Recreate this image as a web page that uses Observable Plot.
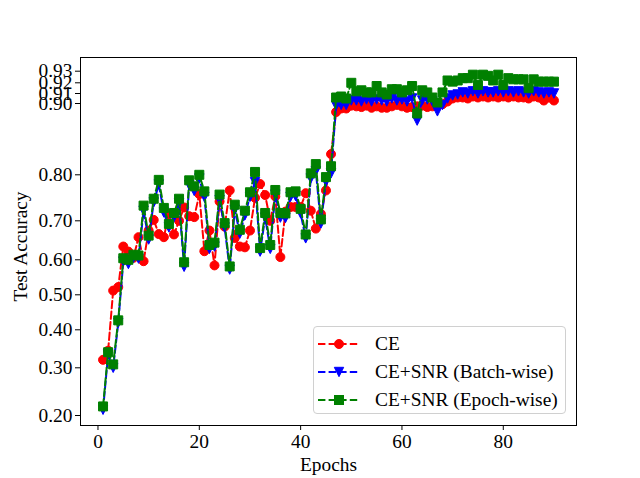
<!DOCTYPE html>
<html>
<head>
<meta charset="utf-8">
<script src="https://cdn.jsdelivr.net/npm/d3@7"></script>
<script src="https://cdn.jsdelivr.net/npm/@observablehq/plot@0.6"></script>
<style>
  html, body { margin: 0; padding: 0; background: #fff; }
  #wrap { position: relative; width: 640px; height: 478px; font-family: "Liberation Serif", "Times New Roman", serif; }
  #legend { position: absolute; left: 313px; top: 326px; width: 253px; height: 88px; box-sizing: border-box;
    border: 1px solid #d0d0d0; border-radius: 4px; background: rgba(255,255,255,0.8); }
  .item { position: absolute; left: 0; height: 28px; display: flex; align-items: center; font-size: 19.4px; color: #000; white-space: nowrap; }
  .item svg { margin-left: 4px; margin-right: 15px; }
</style>
</head>
<body>
<div id="wrap"><div id="legend"></div></div>
<script>
const epochs = [1,2,3,4,5,6,7,8,9,10,11,12,13,14,15,16,17,18,19,20,21,22,23,24,25,26,27,28,29,30,
  31,32,33,34,35,36,37,38,39,40,41,42,43,44,45,46,47,48,49,50,51,52,53,54,55,56,57,58,59,60,
  61,62,63,64,65,66,67,68,69,70,71,72,73,74,75,76,77,78,79,80,81,82,83,84,85,86,87,88,89,90];

const ce = [0.321,0.345,0.512,0.522,0.634,0.621,0.605,0.658,0.596,0.675,
  0.702,0.666,0.658,0.715,0.665,0.700,0.729,0.710,0.708,0.758,
  0.622,0.675,0.584,0.742,0.685,0.766,0.656,0.634,0.632,0.675,
  0.750,0.780,0.756,0.700,0.753,0.607,0.720,0.730,0.730,0.730,
  0.760,0.722,0.680,0.715,0.766,0.829,0.888,0.893,0.893,0.897,
  0.896,0.895,0.897,0.894,0.896,0.894,0.894,0.896,0.898,0.896,
  0.894,0.895,0.896,0.897,0.895,0.896,0.898,0.899,0.902,0.905,
  0.906,0.906,0.905,0.907,0.906,0.907,0.906,0.907,0.906,0.907,
  0.906,0.907,0.906,0.906,0.905,0.907,0.906,0.903,0.906,0.903];

const batchWise = [0.212,0.335,0.300,0.420,0.595,0.588,0.605,0.603,0.722,0.652,
  0.740,0.779,0.718,0.683,0.708,0.738,0.580,0.778,0.765,0.792,
  0.752,0.628,0.634,0.745,0.683,0.572,0.724,0.667,0.712,0.752,
  0.784,0.621,0.707,0.628,0.757,0.707,0.706,0.752,0.754,0.716,
  0.655,0.792,0.805,0.693,0.785,0.802,0.897,0.898,0.898,0.903,
  0.903,0.902,0.904,0.902,0.904,0.903,0.902,0.905,0.903,0.904,
  0.902,0.905,0.876,0.903,0.904,0.902,0.889,0.898,0.905,0.908,
  0.909,0.911,0.910,0.912,0.910,0.912,0.911,0.911,0.912,0.911,
  0.912,0.911,0.912,0.911,0.910,0.912,0.911,0.910,0.911,0.910];

const epochWise = [0.219,0.341,0.309,0.427,0.604,0.600,0.613,0.611,0.733,0.662,
  0.748,0.789,0.728,0.692,0.717,0.748,0.593,0.788,0.775,0.800,
  0.764,0.638,0.644,0.757,0.694,0.581,0.735,0.677,0.722,0.762,
  0.804,0.630,0.717,0.638,0.767,0.717,0.716,0.762,0.764,0.726,
  0.665,0.802,0.815,0.703,0.795,0.812,0.906,0.907,0.905,0.920,
  0.912,0.913,0.911,0.911,0.917,0.911,0.909,0.914,0.914,0.911,
  0.913,0.917,0.886,0.913,0.911,0.906,0.901,0.911,0.922,0.921,
  0.922,0.924,0.924,0.927,0.918,0.927,0.926,0.922,0.927,0.918,
  0.924,0.923,0.923,0.923,0.915,0.923,0.921,0.921,0.921,0.921];

const seriesNames = ["CE", "CE+SNR (Batch-wise)", "CE+SNR (Epoch-wise)"];
const seriesColors = ["red", "blue", "green"];
const xTicks = [0, 20, 40, 60, 80];
const yTicks = [0.20, 0.30, 0.40, 0.50, 0.60, 0.70, 0.80, 0.90, 0.91, 0.92, 0.93];

// custom marker shapes (size = pi r^2 supplied by Plot)
const squareSym = { draw(ctx, size) { const r = Math.sqrt(size / Math.PI); ctx.rect(-r, -r, 2 * r, 2 * r); } };
const triDownSym = { draw(ctx, size) { const r = Math.sqrt(size / Math.PI) * 1.05; ctx.moveTo(0, r); ctx.lineTo(-r, -r); ctx.lineTo(r, -r); ctx.closePath(); } };
const circleSym = { draw(ctx, size) { const r = Math.sqrt(size / Math.PI); ctx.moveTo(r, 0); ctx.arc(0, 0, r, 0, 2 * Math.PI); } };
const symbols = [circleSym, triDownSym, squareSym];

const allSeries = [ce, batchWise, epochWise];
const tables = allSeries.map((vals, i) => epochs.map((e, j) => ({epoch: e, acc: vals[j], series: seriesNames[i]})));

const FS = 19.4;
const dash = "7.4,3.2";
const marks = [Plot.frame({stroke: "black", strokeWidth: 1})];
tables.forEach((t, i) => {
  marks.push(Plot.line(t, {x: "epoch", y: "acc", stroke: seriesColors[i], strokeWidth: 2, strokeDasharray: dash}));
  marks.push(Plot.dot(t, {x: "epoch", y: "acc", symbol: symbols[i], r: 4.5, fill: seriesColors[i], stroke: seriesColors[i], strokeWidth: 1}));
});
marks.push(Plot.axisX({ticks: xTicks, tickSize: 5, tickPadding: 4, tickFormat: d => String(d), label: null, fontSize: FS}));
marks.push(Plot.axisY({ticks: yTicks, tickSize: 5, tickPadding: 3, tickFormat: d => d.toFixed(2), label: null, fontSize: FS}));
marks.push(Plot.text(["Epochs"], {frameAnchor: "bottom", dy: 45, fontSize: FS, fill: "black"}));
marks.push(Plot.text(["Test Accuracy"], {frameAnchor: "left", textAnchor: "middle", dx: -60, dy: 5, rotate: -90, fontSize: FS, fill: "black"}));

const chart = Plot.plot({
  width: 640,
  height: 478,
  marginTop: 57,
  marginBottom: 53,
  marginLeft: 80,
  marginRight: 64,
  style: {fontFamily: "'Liberation Serif', 'Times New Roman', serif", fontSize: FS + "px", color: "black", background: "white"},
  x: {domain: [-3.45, 94.45]},
  y: {
    type: "linear",
    domain: [0.179, 0.2, 0.3, 0.4, 0.5, 0.6, 0.7, 0.8, 0.9, 0.91, 0.92, 0.93, 0.9418],
    range: [425, 415, 367.3, 329.3, 294.3, 259.3, 220.3, 174.3, 103, 93, 82.3, 70.7, 57]
  },
  marks
});
document.getElementById("wrap").prepend(chart);

// legend
const legend = document.getElementById("legend");
seriesNames.forEach((name, i) => {
  const item = document.createElement("div");
  item.className = "item";
  item.style.top = (3 + i * 28) + "px";
  const c = seriesColors[i];
  let marker;
  if (i === 0) marker = `<circle cx="21" cy="10" r="4.5" fill="${c}" stroke="${c}"/>`;
  else if (i === 1) marker = `<path d="M21,14.7L16.3,5.3L25.7,5.3Z" fill="${c}" stroke="${c}"/>`;
  else marker = `<rect x="16.5" y="5.5" width="9" height="9" fill="${c}" stroke="${c}"/>`;
  item.innerHTML = `<svg width="42" height="20"><line x1="0" y1="10" x2="42" y2="10" stroke="${c}" stroke-width="2" stroke-dasharray="${dash}"/>${marker}</svg><span>${name}</span>`;
  legend.appendChild(item);
});
</script>
</body>
</html>
